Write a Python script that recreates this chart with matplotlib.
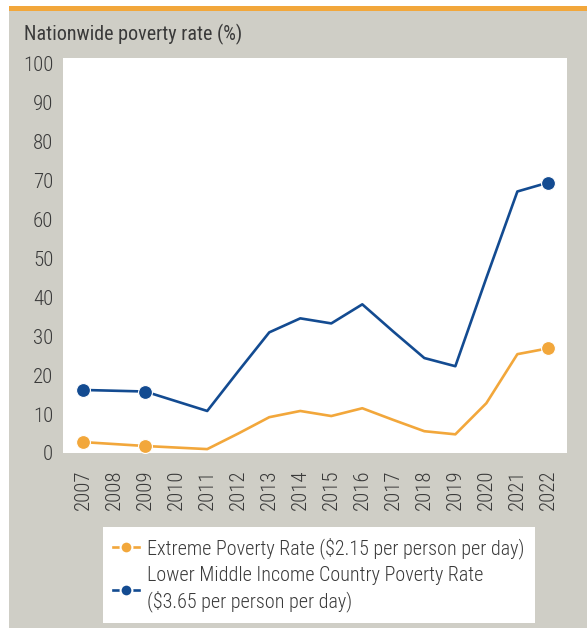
#!/usr/bin/env python3
import matplotlib
matplotlib.use("Agg")
import matplotlib.pyplot as plt
from matplotlib.patches import Rectangle
from matplotlib.lines import Line2D

years = list(range(2007, 2023))
extreme_rate = [2.8, 2.3, 1.8, 1.4, 1.0, 5.0, 9.2, 10.8, 9.5, 11.5, 8.5, 5.6, 4.8, 12.8, 25.4, 26.9]
lmic_rate = [16.2, 16.0, 15.8, 13.3, 10.8, 21.0, 31.0, 34.6, 33.3, 38.2, 31.2, 24.4, 22.3, 45.0, 67.2, 69.5]
marked = [0, 2, 15]  # survey years shown with dots

extreme_label = "Extreme Poverty Rate ($2.15 per person per day)"
lmic_label = "Lower Middle Income Country Poverty Rate\n($3.65 per person per day)"
title = "Nationwide poverty rate (%)"

ORANGE = "#f2a73b"
BLUE = "#134b91"
PANEL = "#cfcec6"
TEXT = "#3a3a3a"

plt.rcParams["font.family"] = ["Roboto Condensed", "Archivo Narrow", "PT Sans Narrow",
                               "Liberation Sans Narrow", "DejaVu Sans"]
plt.rcParams["font.weight"] = 300

W, H = 587, 633
fig = plt.figure(figsize=(W / 100, H / 100), dpi=100)
fig.patch.set_facecolor("white")

# grey panel and orange strip along the top
fig.patches.append(Rectangle((9 / W, 5 / H), 1 - 9 / W, 1 - 16 / H,
                             transform=fig.transFigure, facecolor=PANEL,
                             edgecolor="none", zorder=-2))
fig.patches.append(Rectangle((9 / W, 1 - 11 / H), 1 - 9 / W, 5 / H,
                             transform=fig.transFigure, facecolor=ORANGE,
                             edgecolor="none", zorder=-2))

fig.text(24 / W, 1 - 34 / H, title, fontsize=14.5, color=TEXT, va="center", ha="left",
         fontweight=400)

ax = fig.add_axes([63 / W, 180 / H, 504 / W, 395 / H])
ax.set_facecolor("white")

ax.plot(years, lmic_rate, color=BLUE, lw=1.9, marker="o", markevery=marked,
        markersize=10, markeredgecolor="white", markeredgewidth=0.8, zorder=3)
ax.plot(years, extreme_rate, color=ORANGE, lw=1.9, marker="o", markevery=marked,
        markersize=10, markeredgecolor="white", markeredgewidth=0.8, zorder=3)

ax.set_xlim(2006.35, 2022.6)
ax.set_ylim(0, 101.5)
ax.set_yticks(range(0, 101, 10))
ax.set_xticks(years)
ax.set_xticklabels([str(y) for y in years], rotation=90)
ax.tick_params(axis="both", length=0, labelsize=15, colors=TEXT)
ax.tick_params(axis="y", pad=7)
ax.tick_params(axis="x", pad=12)
for s in ax.spines.values():
    s.set_visible(False)

handles = [
    Line2D([], [], color=ORANGE, lw=1.9, marker="o", markersize=8.5,
           markeredgecolor="white", markeredgewidth=1.5),
    Line2D([], [], color=BLUE, lw=1.9, marker="o", markersize=8.5,
           markeredgecolor="white", markeredgewidth=1.5),
]
leg = fig.legend(handles, [extreme_label, lmic_label], loc="upper left",
                 bbox_to_anchor=(103 / W, 1 - 527 / H), fontsize=14.5,
                 frameon=True, fancybox=False, facecolor="white",
                 edgecolor="none", framealpha=1, borderaxespad=0,
                 handlelength=1.3, handletextpad=0.4, borderpad=0.5,
                 labelspacing=0.35)
for t in leg.get_texts():
    t.set_color(TEXT)
    t.set_linespacing(1.35)

fig.savefig("out.png", dpi=100, facecolor=fig.get_facecolor())
